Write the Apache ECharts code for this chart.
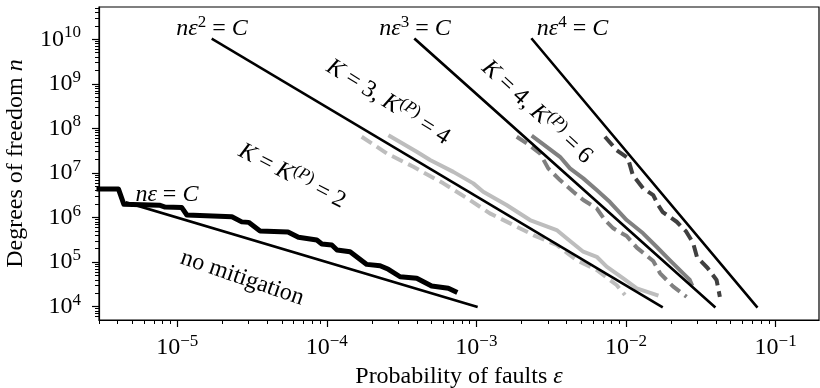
<!DOCTYPE html>
<html>
<head>
<meta charset="utf-8">
<script src="https://cdn.jsdelivr.net/npm/echarts@6/dist/echarts.min.js"></script>
<style>
  html, body { margin: 0; padding: 0; background: #fff; }
  #chart { width: 820px; height: 388px; }
</style>
</head>
<body>
<div id="chart"></div>
<script>
const FONT = 'Liberation Serif';

// no mitigation, simulated (eps, n)
const noMitEps = [3.0e-6, 4.05e-6, 4.4e-6, 7.6e-6, 8.3e-6, 1.07e-5, 1.16e-5, 2.32e-5, 2.7e-5, 3.0e-5, 3.58e-5, 5.5e-5, 6.46e-5, 8.57e-5, 9.26e-5, 1.08e-4, 1.17e-4, 1.43e-4, 1.85e-4, 2.27e-4, 2.58e-4, 3.09e-4, 3.99e-4, 5.02e-4, 6.49e-4, 7.2e-4];
const noMitN = [4.35e6, 4.35e6, 1.98e6, 1.9e6, 1.72e6, 1.69e6, 1.14e6, 1.04e6, 8.0e5, 7.8e5, 4.98e5, 4.75e5, 3.6e5, 3.13e5, 2.55e5, 2.42e5, 1.87e5, 1.71e5, 8.9e4, 8.3e4, 6.9e4, 4.7e4, 4.34e4, 2.9e4, 2.6e4, 2.2e4];

// K = 3 (solid light) and K^(P) = 4 (dashed light)
const k3Eps = [2.65e-4, 3.99e-4, 4.9e-4, 7.01e-4, 9.53e-4, 1.11e-3, 1.59e-3, 2.28e-3, 3.44e-3, 4.01e-3, 5.18e-3, 6.37e-3, 7.42e-3, 9.58e-3, 1.18e-2, 1.6e-2];
const k3N = [6.7e7, 3.0e7, 1.95e7, 1.06e7, 5.85e6, 3.79e6, 1.91e6, 8.8e5, 5.25e5, 3.42e5, 1.71e5, 1.32e5, 7.9e4, 4.33e4, 2.59e4, 1.83e4];
const kp4Eps = [1.71e-4, 2.52e-4, 3.79e-4, 6.01e-4, 9.05e-4, 1.23e-3, 1.68e-3, 2.4e-3, 3.44e-3, 4.67e-3, 6.37e-3, 8.65e-3, 9.84e-3];
const kp4N = [6.5e7, 2.75e7, 1.38e7, 5.85e6, 2.47e6, 1.24e6, 7.41e5, 4.05e5, 2.42e5, 1.11e5, 6.65e4, 3.07e4, 1.83e4];

// K = 4 (solid mid) and K^(P) = 6 (dashed mid)
const k4Eps = [2.4e-3, 2.95e-3, 3.62e-3, 4.22e-3, 5.18e-3, 6.37e-3, 7.81e-3, 1.01e-2, 1.3e-2, 1.6e-2, 1.96e-2, 2.41e-2, 2.67e-2, 2.74e-2];
const k4N = [6.5e7, 3.87e7, 2.31e7, 1.27e7, 7.57e6, 4.14e6, 2.23e6, 8.8e5, 4.43e5, 2.21e5, 1.11e5, 5.61e4, 3.97e4, 3.23e4];
const kp6Eps = [1.86e-3, 2.17e-3, 2.66e-3, 3.02e-3, 3.62e-3, 4.44e-3, 5.18e-3, 6.37e-3, 7.23e-3, 8.22e-3, 1.01e-2, 1.18e-2, 1.52e-2, 1.69e-2, 2.07e-2, 2.54e-2];
const kp6N = [6.5e7, 4.61e7, 2.75e7, 1.27e7, 6.93e6, 3.79e6, 2.47e6, 1.61e6, 8.8e5, 5.73e5, 3.85e5, 2.12e5, 1.06e5, 5.61e4, 2.81e4, 1.67e4];

// dark dashed
const kp8Eps = [7.23e-3, 8.65e-3, 1.03e-2, 1.11e-2, 1.3e-2, 1.52e-2, 1.64e-2, 1.76e-2, 2.18e-2, 2.51e-2, 2.81e-2, 2.98e-2, 3.51e-2, 4.03e-2, 4.24e-2];
const kp8N = [6.5e7, 3.26e7, 2.16e7, 8.98e6, 4.52e6, 3.19e6, 1.91e6, 1.33e6, 8.05e5, 4.98e5, 2.68e5, 1.3e5, 7.38e4, 3.97e4, 1.67e4];

// reference lines n eps^k = C (end points)
const ref1Eps = [4.6e-6, 1e-3],    ref1N = [2.17e6, 1e4];
const ref2Eps = [1.73e-5, 1.73e-2], ref2N = [1e10, 1e4];
const ref3Eps = [3.9e-4, 3.9e-2],  ref3N = [1e10, 1e4];
const ref4Eps = [2.36e-3, 7.47e-2], ref4N = [1e10, 1e4];

// axis ticks
const xMajor = [1e-5, 1e-4, 1e-3, 1e-2, 1e-1];
const yMajor = [1e4, 1e5, 1e6, 1e7, 1e8, 1e9, 1e10];
const X_MIN = 3.0e-6, X_MAX = 0.195;
const Y_MIN = 5.03e3, Y_MAX = 5.3e10;

function minorTicks(k0, k1, lo, hi) {
  const out = [];
  for (let k = k0; k <= k1; k++) {
    for (let m = 2; m <= 9; m++) {
      const v = m * Math.pow(10, k);
      if (v >= lo && v <= hi) out.push(v);
    }
  }
  return out;
}
const xMinor = minorTicks(-6, -1, X_MIN, X_MAX);
const yMinor = minorTicks(3, 10, Y_MIN, Y_MAX);

// annotation texts and anchors (eps, n, angle in degrees)
const notes = [
  { text: '{i|nε}{s|2}{r| = }{i|C}', eps: 1.71e-5, n: 1.69e10, rot: 0 },
  { text: '{i|nε}{s|3}{r| = }{i|C}', eps: 3.89e-4, n: 1.69e10, rot: 0 },
  { text: '{i|nε}{s|4}{r| = }{i|C}', eps: 4.39e-3, n: 1.69e10, rot: 0 },
  { text: '{i|nε}{r| = }{i|C}', eps: 8.53e-6, n: 3.33e6, rot: 0 },
  { text: '{r|no mitigation}', eps: 2.72e-5, n: 4.4e4, rot: 19 },
  { text: '{i|K}{r| = }{i|K}{s|(}{si|P}{s|)}{r| = 2}', eps: 5.86e-5, n: 8.5e6, rot: 27 },
  { text: '{i|K}{r| = 3, }{i|K}{s|(}{si|P}{s|)}{r| = 4}', eps: 2.57e-4, n: 3.89e8, rot: 32 },
  { text: '{i|K}{r| = 4, }{i|K}{s|(}{si|P}{s|)}{r| = 6}', eps: 2.54e-3, n: 2.32e8, rot: 42.5 }
];

function pairs(xs, ys) { return xs.map((x, i) => [x, ys[i]]); }

const richMath = {
  r: { fontFamily: FONT, fontSize: 24, lineHeight: 30, color: '#000' },
  i: { fontFamily: FONT, fontSize: 24, fontStyle: 'italic', lineHeight: 30, color: '#000' },
  s: { fontFamily: FONT, fontSize: 17, lineHeight: 17, verticalAlign: 'top', color: '#000' },
  si: { fontFamily: FONT, fontSize: 17, fontStyle: 'italic', lineHeight: 17, verticalAlign: 'top', color: '#000' }
};

function powLabel(v) {
  const e = Math.round(Math.log10(v));
  return '{r|10}{s|' + (e < 0 ? '\u2212' + (-e) : e) + '}';
}

function line(data, color, width, dashed) {
  return {
    type: 'line',
    data: data,
    xAxisIndex: 0,
    yAxisIndex: 0,
    showSymbol: false,
    symbol: 'none',
    lineStyle: { color: color, width: width, type: dashed ? [12, 6] : 'solid', cap: dashed ? 'butt' : 'square', join: 'round' }
  };
}

const LIGHT = '#bdbdbd', MID = '#808080', DARK = '#404040';

const chart = echarts.init(document.getElementById('chart'));

const axisCommon = {
  type: 'log',
  logBase: 10,
  splitLine: { show: false }
};

const option = {
  animation: false,
  backgroundColor: '#fff',
  grid: {
    left: 99, right: 1, top: 7, bottom: 68,
    outerBoundsMode: 'none',
    containLabel: false,
    show: true, borderColor: '#000', borderWidth: 1.2, backgroundColor: 'transparent'
  },
  xAxis: [
    Object.assign({}, axisCommon, {
      min: X_MIN, max: X_MAX, position: 'bottom',
      axisLine: { show: true, lineStyle: { color: '#000', width: 1.2 } },
      axisTick: { show: true, customValues: xMajor, length: 7, lineStyle: { color: '#000', width: 1.2 } },
      axisLabel: { customValues: xMajor, margin: 13, formatter: powLabel, rich: richMath },
      name: 'Probability of faults {i|ε}',
      nameLocation: 'middle',
      nameGap: 40,
      nameTextStyle: { fontFamily: FONT, fontSize: 24, color: '#000', verticalAlign: 'top', rich: richMath }
    }),
    Object.assign({}, axisCommon, {
      min: X_MIN, max: X_MAX, position: 'bottom',
      axisLine: { show: false },
      axisTick: { show: true, customValues: xMinor, length: 4, lineStyle: { color: '#000', width: 1 } },
      axisLabel: { show: false, customValues: xMinor }
    })
  ],
  yAxis: [
    Object.assign({}, axisCommon, {
      min: Y_MIN, max: Y_MAX, position: 'left',
      axisLine: { show: true, lineStyle: { color: '#000', width: 1.2 } },
      axisTick: { show: true, customValues: yMajor, length: 7, lineStyle: { color: '#000', width: 1.2 } },
      axisLabel: { customValues: yMajor, margin: 18, formatter: powLabel, rich: richMath },
      name: 'Degrees of freedom {i|n}',
      nameLocation: 'middle',
      nameGap: 68,
      nameRotate: 90,
      nameTextStyle: { fontFamily: FONT, fontSize: 24, color: '#000', rich: richMath }
    }),
    Object.assign({}, axisCommon, {
      min: Y_MIN, max: Y_MAX, position: 'left',
      axisLine: { show: false },
      axisTick: { show: true, customValues: yMinor, length: 4, lineStyle: { color: '#000', width: 1 } },
      axisLabel: { show: false, customValues: yMinor }
    })
  ],
  series: [
    line(pairs(k3Eps, k3N), LIGHT, 4, false),
    line(pairs(kp4Eps, kp4N), LIGHT, 4, true),
    line(pairs(k4Eps, k4N), MID, 4, false),
    line(pairs(kp6Eps, kp6N), MID, 4, true),
    line(pairs(kp8Eps, kp8N), DARK, 4, true),
    line(pairs(noMitEps, noMitN), '#000', 5, false),
    line(pairs(ref1Eps, ref1N), '#000', 2.6, false),
    line(pairs(ref2Eps, ref2N), '#000', 2.6, false),
    line(pairs(ref3Eps, ref3N), '#000', 2.6, false),
    line(pairs(ref4Eps, ref4N), '#000', 2.6, false)
  ]
};

chart.setOption(option);

const graphics = notes.map(function (nt) {
  const p = chart.convertToPixel({ xAxisIndex: 0, yAxisIndex: 0 }, [nt.eps, nt.n]);
  return {
    type: 'text',
    x: p[0],
    y: p[1],
    rotation: -nt.rot * Math.PI / 180,
    z: 100,
    style: {
      text: nt.text,
      rich: richMath,
      align: 'center',
      verticalAlign: 'middle',
      fill: '#000'
    }
  };
});
chart.setOption({ graphic: graphics });
</script>
</body>
</html>
